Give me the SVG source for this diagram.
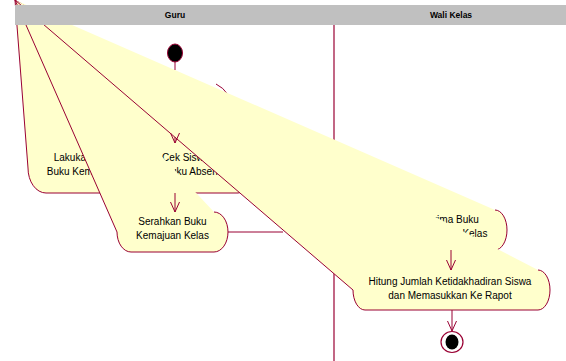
<svg xmlns="http://www.w3.org/2000/svg" width="566" height="361" viewBox="0 0 566 361">
<style>
.fill{fill:#FFFFCC;stroke:none}
.edge{fill:none;stroke:#990033;stroke-width:1}
.lbl{font-family:"Liberation Sans",Arial,sans-serif;font-size:10px;fill:#000;text-anchor:middle}
.hdr{font-family:"Liberation Sans",Arial,sans-serif;font-size:8.5px;font-weight:bold;fill:#000;text-anchor:middle}
.conn{fill:none;stroke:#990033;stroke-width:1}
</style>
<defs>
<marker id="arr" markerWidth="12" markerHeight="12" refX="10" refY="5" orient="auto" markerUnits="userSpaceOnUse">
<path d="M0,0.5 L10,5 L0,9.5" fill="none" stroke="#990033" stroke-width="1"/>
</marker>
</defs>
<rect width="566" height="361" fill="#fff"/>
<g id="lane-divider">
<line x1="334" y1="25" x2="334" y2="361" stroke="#990033" stroke-width="1.2"/>
</g>
<g id="start">
<ellipse cx="175" cy="53" rx="7.5" ry="9" fill="#000" stroke="#990033" stroke-width="1"/>
</g>
<g id="lakukan">
<path class="fill" d="M15,0 L146,143 A18,25 0 0 1 164,168 A18,25 0 0 1 146,193 L46,193 A18,25 0 0 1 28,168 Z"/>
<path class="edge" d="M146,143 A18,25 0 0 1 164,168 A18,25 0 0 1 146,193 L46,193 A18,25 0 0 1 28,168 L15,0"/>
<text class="lbl" x="96" y="161">Lakukan Pengisian</text>
<text class="lbl" x="96" y="175">Buku Kemajuan Kelas</text>
</g>
<g id="cek">
<path class="fill" d="M15,0 L238,143 A12,25 0 0 1 250,168 A12,25 0 0 1 238,193 L144,193 A12,25 0 0 1 132,168 Z"/>
<path class="edge" d="M238,143 A12,25 0 0 1 250,168 A12,25 0 0 1 238,193 L144,193 A12,25 0 0 1 132,168 L15,0"/>
<path class="edge" d="M216,84 Q223,87 229,96"/>
<text class="lbl" x="191" y="161">Cek Siswa di</text>
<text class="lbl" x="191" y="175">Buku Absen</text>
</g>
<g id="serahkan">
<path class="fill" d="M15,0 L214,212 A14,20 0 0 1 228,232 A14,20 0 0 1 214,252 L131,252 A14,20 0 0 1 117,232 Z"/>
<path class="edge" d="M214,212 A14,20 0 0 1 228,232 A14,20 0 0 1 214,252 L131,252 A14,20 0 0 1 117,232 L15,0"/>
<text class="lbl" x="172.5" y="225">Serahkan Buku</text>
<text class="lbl" x="172.5" y="239">Kemajuan Kelas</text>
</g>
<g id="terima">
<path class="fill" d="M15,0 L495,210 A12,20 0 0 1 507,230 A12,20 0 0 1 495,250 L407,250 A12,20 0 0 1 395,230 Z"/>
<path class="edge" d="M495,210 A12,20 0 0 1 507,230 A12,20 0 0 1 495,250 L407,250 A12,20 0 0 1 395,230 L15,0"/>
<text class="lbl" x="451" y="223">Terima Buku</text>
<text class="lbl" x="451" y="237">Kemajuan Kelas</text>
</g>
<g id="hitung">
<path class="fill" d="M15,0 L538,270 A12,20 0 0 1 550,290 A12,20 0 0 1 538,310 L365,310 A12,20 0 0 1 353,290 Z"/>
<path class="edge" d="M538,270 A12,20 0 0 1 550,290 A12,20 0 0 1 538,310 L365,310 A12,20 0 0 1 353,290 L15,0"/>
<text class="lbl" x="450" y="285">Hitung Jumlah Ketidakhadiran Siswa</text>
<text class="lbl" x="450" y="299">dan Memasukkan Ke Rapot</text>
</g>
<g id="end">
<ellipse cx="452" cy="342" rx="11" ry="10.5" fill="#fff" stroke="#990033" stroke-width="1.2"/>
<ellipse cx="452" cy="342" rx="6.5" ry="7.5" fill="#000"/>
</g>
<g id="connectors">
<path class="conn" d="M175,62 V70"/>
<path class="conn" d="M175,137 V143" marker-end="url(#arr)"/>
<path class="conn" d="M175,193 V212" marker-end="url(#arr)"/>
<path class="conn" d="M228,232 H283"/>
<path class="conn" d="M451,250 V270" marker-end="url(#arr)"/>
<path class="conn" d="M452,310 V331" marker-end="url(#arr)"/>
</g>
<g id="lane-header">
<rect x="15" y="5" width="551" height="20" fill="#C0C0C0"/>
<text class="hdr" x="175" y="18">Guru</text>
<text class="hdr" x="451" y="18">Wali Kelas</text>
</g>
</svg>
